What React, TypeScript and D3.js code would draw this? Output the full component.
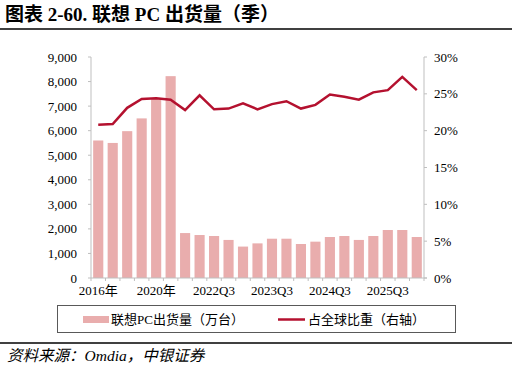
import React from "react";
import * as d3 from "d3";

const categories = [
  "2016年", "2017年", "2018年", "2019年", "2020年", "2021年",
  "2022Q1", "2022Q2", "2022Q3", "2022Q4",
  "2023Q1", "2023Q2", "2023Q3", "2023Q4",
  "2024Q1", "2024Q2", "2024Q3", "2024Q4",
  "2025Q1", "2025Q2", "2025Q3", "2025Q4", "2026Q1",
];
const shipments = [
  5600, 5500, 5980, 6500, 7300, 8220,
  1830, 1750, 1710, 1550,
  1280, 1410, 1600, 1600,
  1385, 1480, 1670, 1710,
  1550, 1710, 1955, 1955, 1670,
];
const share = [
  20.8, 20.9, 23.1, 24.3, 24.4, 24.2,
  22.8, 24.8, 22.9, 23.0,
  23.7, 22.9, 23.6, 24.0,
  23.0, 23.5, 24.9, 24.6,
  24.2, 25.2, 25.5, 27.3, 25.5,
];
const leftTicks = [0, 1000, 2000, 3000, 4000, 5000, 6000, 7000, 8000, 9000];
const rightTicks = [0, 5, 10, 15, 20, 25, 30];

const title = "图表 2-60. 联想 PC 出货量（季）";
const legendBar = "联想PC出货量（万台）";
const legendLine = "占全球比重（右轴）";
const source = "资料来源：Omdia，中银证券";

const FONT = "'Liberation Serif', 'Times New Roman', 'Noto Sans CJK SC', serif";
const BAR = "#e9adad";
const LINE = "#b4112f";
const AXIS = "#bfbfbf";

export default function App() {
  const W = 516, H = 369;
  const x0 = 91, x1 = 424, yTop = 57, yBot = 278;
  const x = d3.scaleBand<string>().domain(categories).range([x0, x1]).paddingInner(0.3).paddingOuter(0.15);
  const yL = d3.scaleLinear().domain([0, 9000]).range([yBot, yTop]);
  const yR = d3.scaleLinear().domain([0, 30]).range([yBot, yTop]);
  const fmt = d3.format(",");
  const line = d3.line<number>()
    .x((_, i) => (x(categories[i]) as number) + x.bandwidth() / 2)
    .y((d) => yR(d));
  const boundaries = d3.range(categories.length + 1).map((i) => x0 + (x1 - x0) * i / categories.length);

  return (
    <div style={{ position: "absolute", left: 0, top: 0 }}>
      <svg width={W} height={H} style={{ display: "block", background: "#fff" }}>
        <text x={5} y={21} fontFamily={FONT} fontWeight="bold" fontSize={19} fill="#000">{title}</text>
        <line x1={0} x2={512} y1={29} y2={29} stroke="#404040" strokeWidth={1.8} />

        {categories.map((c, i) => (
          <rect key={c} x={x(c)} y={yL(shipments[i])} width={x.bandwidth()} height={yBot - yL(shipments[i])} fill={BAR} />
        ))}

        <line x1={x0} x2={x0} y1={yTop} y2={yBot} stroke={AXIS} />
        {leftTicks.map((t) => (
          <g key={t}>
            <line x1={x0 - 3} x2={x0} y1={yL(t)} y2={yL(t)} stroke={AXIS} />
            <text x={77} y={yL(t)} dy="0.35em" textAnchor="end" fontFamily={FONT} fontSize={13} fill="#000">{fmt(t)}</text>
          </g>
        ))}

        <line x1={x1} x2={x1} y1={yTop} y2={yBot} stroke={AXIS} />
        {rightTicks.map((t) => (
          <g key={t}>
            <line x1={x1} x2={x1 + 3} y1={yR(t)} y2={yR(t)} stroke={AXIS} />
            <text x={434} y={yR(t)} dy="0.35em" textAnchor="start" fontFamily={FONT} fontSize={13} fill="#000">{t}%</text>
          </g>
        ))}

        <line x1={x0} x2={x1 + 3} y1={yBot} y2={yBot} stroke={AXIS} />
        {boundaries.map((b, i) => (
          <line key={i} x1={b} x2={b} y1={yBot} y2={yBot + 3} stroke={AXIS} />
        ))}
        {categories.map((c, i) => i % 4 === 0 ? (
          <text key={c} x={(x(c) as number) + x.bandwidth() / 2} y={295} textAnchor="middle" fontFamily={FONT} fontSize={13} fill="#000">{c}</text>
        ) : null)}

        <path d={line(share) || ""} fill="none" stroke={LINE} strokeWidth={2.5} strokeLinejoin="miter" />

        <rect x={57.5} y={305.5} width={398} height={27} fill="none" stroke="#595959" strokeWidth={1} />
        <rect x={83} y={316} width={26} height={7} fill={BAR} />
        <text x={111} y={324} fontFamily={FONT} fontSize={13} fill="#000">{legendBar}</text>
        <line x1={278} x2={305} y1={319.5} y2={319.5} stroke={LINE} strokeWidth={2.5} />
        <text x={308} y={324} fontFamily={FONT} fontSize={13} fill="#000">{legendLine}</text>

        <line x1={0} x2={512} y1={343} y2={343} stroke="#404040" strokeWidth={1.8} />
        <text x={7} y={361} fontFamily={FONT} fontStyle="italic" fontSize={15.5} fill="#000">{source}</text>
      </svg>
    </div>
  );
}
